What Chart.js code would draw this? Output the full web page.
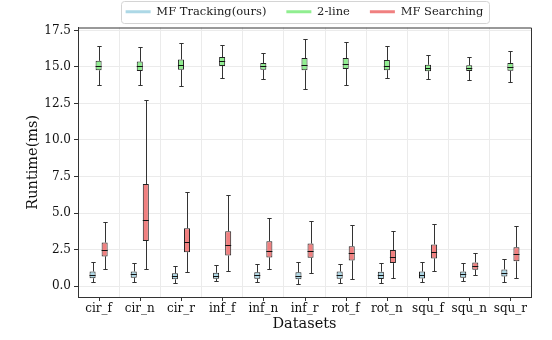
<!DOCTYPE html>
<html>
<head>
<meta charset="utf-8">
<script src="https://cdn.jsdelivr.net/npm/chart.js@4/dist/chart.umd.min.js"></script>
<style>
  html, body { margin: 0; padding: 0; background: #fff; }
</style>
</head>
<body>
<canvas id="chart" width="552" height="340"></canvas>
<script>
const categories = ['cir_f', 'cir_n', 'cir_r', 'inf_f', 'inf_n', 'inf_r', 'rot_f', 'rot_n', 'squ_f', 'squ_n', 'squ_r']

// each entry: [min, q1, median, q3, max]
const trackingStats = [
  [0.25, 0.53, 0.77, 1.00, 1.68],
  [0.30, 0.57, 0.80, 1.00, 1.59],
  [0.23, 0.46, 0.66, 0.87, 1.39],
  [0.32, 0.50, 0.70, 0.91, 1.43],
  [0.25, 0.50, 0.73, 0.94, 1.52],
  [0.12, 0.46, 0.68, 0.94, 1.62],
  [0.23, 0.50, 0.75, 1.00, 1.48],
  [0.23, 0.48, 0.73, 0.98, 1.55],
  [0.27, 0.52, 0.75, 1.00, 1.68],
  [0.32, 0.57, 0.80, 1.00, 1.57],
  [0.27, 0.66, 0.91, 1.14, 1.86]
]
const twoLineStats = [
  [13.77, 14.77, 15.08, 15.42, 16.45],
  [13.74, 14.73, 15.04, 15.37, 16.35],
  [13.72, 14.80, 15.14, 15.51, 16.64],
  [14.24, 15.07, 15.38, 15.68, 16.52],
  [14.15, 14.80, 15.04, 15.27, 15.93],
  [13.49, 14.77, 15.13, 15.61, 16.90],
  [13.79, 14.86, 15.22, 15.61, 16.70],
  [14.27, 14.78, 15.09, 15.47, 16.45],
  [14.20, 14.71, 14.94, 15.15, 15.84],
  [14.13, 14.72, 14.93, 15.11, 15.68],
  [13.97, 14.74, 14.97, 15.27, 16.09]
]
const searchingStats = [
  [1.14, 2.03, 2.44, 2.98, 4.39],
  [1.18, 3.09, 4.55, 6.98, 12.77],
  [0.96, 2.32, 3.00, 3.96, 6.44],
  [1.02, 2.09, 2.78, 3.75, 6.26],
  [1.18, 1.96, 2.41, 3.07, 4.69],
  [0.87, 1.93, 2.41, 2.91, 4.42],
  [0.48, 1.75, 2.23, 2.73, 4.19],
  [0.52, 1.57, 1.96, 2.46, 3.75],
  [1.00, 1.89, 2.30, 2.85, 4.23],
  [0.75, 1.11, 1.37, 1.62, 2.23],
  [0.52, 1.69, 2.18, 2.66, 4.14]
]

const seriesNames = ['MF Tracking(ours)', '2-line', 'MF Searching']
const seriesColors = ['#add8e6', '#90ee90', '#f08080']
const seriesStats = [trackingStats, twoLineStats, searchingStats]

const serif = "'DejaVu Serif', 'Liberation Serif', serif"
const crisp = v => Math.round(v) + 0.5

// whiskers behind the boxes, medians on top of them
const boxWhiskers = {
  id: 'boxWhiskers',
  beforeDatasetsDraw (chart) { drawParts(chart, 'whisker') },
  afterDatasetsDraw (chart) { drawParts(chart, 'median') }
}

function drawParts (chart, part) {
  const ctx = chart.ctx
  const y = chart.scales.y
  ctx.save()
  ctx.lineWidth = 1
  chart.data.datasets.forEach((ds, d) => {
    chart.getDatasetMeta(d).data.forEach((bar, i) => {
      const [lo, q1, med, q3, hi] = ds.stats[i]
      const x = crisp(bar.x)
      const half = bar.width / 2
      ctx.beginPath()
      if (part === 'whisker') {
        const cap = bar.width * 0.36
        ctx.strokeStyle = '#333'
        const yHi = crisp(y.getPixelForValue(hi))
        const yLo = crisp(y.getPixelForValue(lo))
        ctx.moveTo(x, yHi); ctx.lineTo(x, y.getPixelForValue(q3))
        ctx.moveTo(x, y.getPixelForValue(q1)); ctx.lineTo(x, yLo)
        ctx.moveTo(x - cap, yHi); ctx.lineTo(x + cap, yHi)
        ctx.moveTo(x - cap, yLo); ctx.lineTo(x + cap, yLo)
      } else {
        ctx.strokeStyle = '#111'
        const ym = crisp(y.getPixelForValue(med))
        ctx.moveTo(bar.x - half, ym); ctx.lineTo(bar.x + half, ym)
      }
      ctx.stroke()
    })
  })
  ctx.restore()
}

// top/right frame, x tick marks and the legend border
const frame = {
  id: 'frame',
  afterDraw (chart) {
    const ctx = chart.ctx
    const { left, right, top, bottom } = chart.chartArea
    ctx.save()
    ctx.strokeStyle = '#333'
    ctx.lineWidth = 1
    ctx.beginPath()
    ctx.moveTo(crisp(left), crisp(top) - 0.5)
    ctx.lineTo(crisp(right), crisp(top) - 0.5)
    ctx.lineTo(crisp(right), crisp(bottom))
    const xs = chart.scales.x
    xs.ticks.forEach((t, i) => {
      const px = crisp(xs.getPixelForTick(i))
      ctx.moveTo(px, bottom)
      ctx.lineTo(px, bottom + 4)
    })
    ctx.stroke()

    const boxes = chart.legend.legendHitBoxes
    if (boxes && boxes.length) {
      const l = Math.min(...boxes.map(b => b.left)) - 5
      const r = Math.max(...boxes.map(b => b.left + b.width)) + 5
      const t = Math.min(...boxes.map(b => b.top)) - 5
      const b2 = Math.max(...boxes.map(b => b.top + b.height)) + 5
      ctx.strokeStyle = '#d4d4d4'
      ctx.beginPath()
      ctx.roundRect(crisp(l), crisp(t), Math.round(r - l), Math.round(b2 - t), 3)
      ctx.stroke()
    }
    ctx.restore()
  }
}

const datasets = seriesNames.map((name, s) => ({
  label: name,
  stats: seriesStats[s],
  data: seriesStats[s].map(v => [v[1], v[3]]),
  backgroundColor: seriesColors[s],
  borderColor: '#222',
  borderWidth: 1,
  borderSkipped: false,
  categoryPercentage: 0.44,
  barPercentage: 1
}))

new Chart(document.getElementById('chart'), {
  type: 'bar',
  data: { labels: categories, datasets },
  plugins: [boxWhiskers, frame],
  options: {
    responsive: false,
    animation: false,
    layout: { padding: { left: 0, right: 21, top: -14, bottom: 0 } },
    plugins: {
      tooltip: { enabled: false },
      legend: {
        position: 'top',
        fullSize: false,
        labels: {
          boxWidth: 25,
          boxHeight: 3,
          padding: 20,
          color: '#222',
          font: { family: serif, size: 11.5 },
          generateLabels: chart => chart.data.datasets.map((ds, i) => ({
            text: ds.label,
            fillStyle: ds.backgroundColor,
            strokeStyle: ds.backgroundColor,
            lineWidth: 0,
            fontColor: '#222',
            datasetIndex: i
          }))
        }
      }
    },
    scales: {
      x: {
        afterFit: scale => { scale.height = 43 },
        grid: { offset: true, drawTicks: false, color: '#ebebeb' },
        border: { color: '#333', width: 1 },
        ticks: {
          color: '#111',
          padding: 5,
          autoSkip: false,
          maxRotation: 0,
          minRotation: 0,
          font: { family: serif, size: 12 }
        },
        title: {
          display: true,
          text: 'Datasets',
          color: '#111',
          font: { family: serif, size: 14.5 },
          padding: { top: 0, bottom: 7 }
        }
      },
      y: {
        min: -0.75,
        max: 17.7,
        afterFit: scale => { scale.width = 78 },
        grid: { color: '#ebebeb', tickLength: 4, tickColor: '#333' },
        border: { color: '#333', width: 1 },
        ticks: {
          stepSize: 2.5,
          includeBounds: false,
          padding: 3,
          color: '#111',
          font: { family: serif, size: 12 },
          callback: v => v.toFixed(1)
        },
        title: {
          display: true,
          text: 'Runtime(ms)',
          color: '#111',
          font: { family: serif, size: 14.5 },
          padding: { top: 25, bottom: 0 }
        }
      }
    }
  }
})
</script>
</body>
</html>
